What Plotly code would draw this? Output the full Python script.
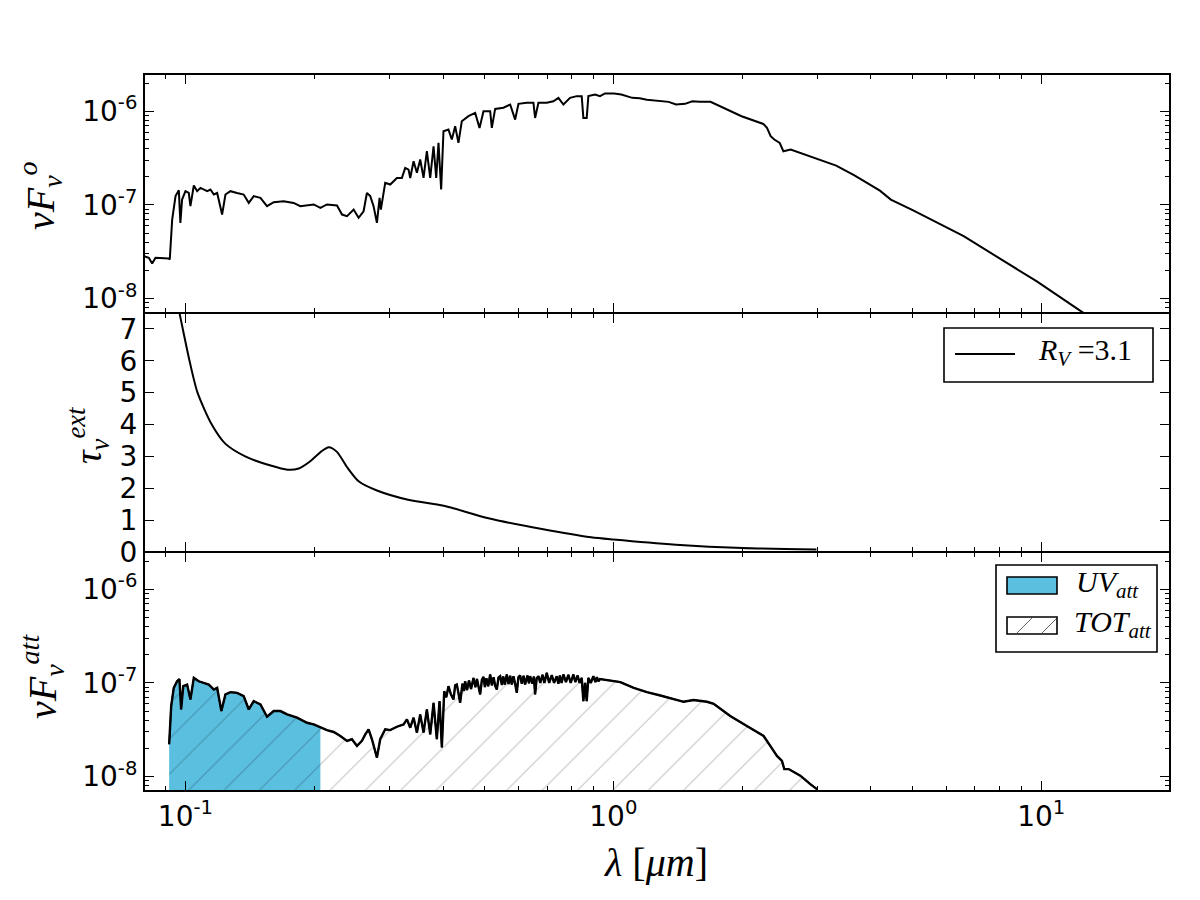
import math
import plotly.graph_objects as go
from plotly.subplots import make_subplots

# ---------------- data ----------------
# intrinsic SED  nuF_nu^o  (top panel)
lam_o = [0.0800, 0.0821, 0.0836, 0.0851, 0.0914, 0.0919, 0.0931, 0.0948, 0.0965, 0.0973,
         0.0982, 0.1000, 0.1018, 0.1027, 0.1046, 0.1065, 0.1084, 0.1124, 0.1144, 0.1165,
         0.1186, 0.1218, 0.1240, 0.1274, 0.1320, 0.1368, 0.1406, 0.1444, 0.1497, 0.1551,
         0.1608, 0.1696, 0.1790, 0.1855, 0.1994, 0.2067, 0.2141, 0.2260, 0.2322, 0.2385,
         0.2472, 0.2539, 0.2608, 0.2655, 0.2703, 0.2752, 0.2802, 0.2842, 0.2862, 0.2930,
         0.3010, 0.3120, 0.3205, 0.3263, 0.3322, 0.3352, 0.3413, 0.3475, 0.3537, 0.3601,
         0.3666, 0.3733, 0.3800, 0.3855, 0.3903, 0.3959, 0.4009, 0.4118, 0.4193, 0.4269,
         0.4345, 0.4424, 0.4585, 0.4754, 0.4867, 0.4972, 0.5154, 0.5200, 0.5294, 0.5537,
         0.5740, 0.5895, 0.6002, 0.6276, 0.6505, 0.6564, 0.6682, 0.6988, 0.7243, 0.7441,
         0.7644, 0.7922, 0.8211, 0.8435, 0.8511, 0.8665, 0.8743, 0.9063, 0.9308, 0.9561,
         1.004, 1.044, 1.107, 1.152, 1.198, 1.347, 1.401, 1.471, 1.530, 1.591,
         1.687, 1.807, 1.994, 2.242, 2.286, 2.332, 2.378, 2.448, 2.497, 2.597,
         3.008, 3.318, 3.660, 4.198, 4.452, 5.007, 6.589, 8.013, 9.748, 12.45, 14.4]
f_o = [2.83e-8, 2.72e-8, 2.36e-8, 2.72e-8, 2.67e-8, 2.61e-8, 6.97e-8, 1.24e-7, 1.43e-7, 6.43e-8,
       1.14e-7, 1.40e-7, 1.34e-7, 9.68e-8, 1.61e-7, 1.40e-7, 1.52e-7, 1.40e-7, 1.46e-7, 1.29e-7,
       1.34e-7, 7.88e-8, 1.29e-7, 1.40e-7, 1.34e-7, 1.29e-7, 1.05e-7, 1.24e-7, 1.19e-7, 9.68e-8,
       1.07e-7, 1.09e-7, 1.05e-7, 9.68e-8, 1.01e-7, 9.29e-8, 1.01e-7, 9.84e-8, 7.88e-8, 7.57e-8,
       8.91e-8, 7.27e-8, 8.55e-8, 1.34e-7, 1.24e-7, 9.68e-8, 6.43e-8, 1.19e-7, 8.91e-8, 1.72e-7,
       1.65e-7, 1.94e-7, 1.94e-7, 2.48e-7, 2.38e-7, 1.94e-7, 2.92e-7, 2.20e-7, 3.05e-7, 1.94e-7,
       3.74e-7, 1.94e-7, 4.23e-7, 1.94e-7, 4.59e-7, 1.46e-7, 6.11e-7, 6.37e-7, 4.99e-7, 6.92e-7,
       4.59e-7, 7.82e-7, 8.85e-7, 9.60e-7, 6.64e-7, 1.00e-6, 1.00e-6, 6.64e-7, 1.06e-6, 1.09e-6,
       1.18e-6, 8.15e-7, 1.20e-6, 1.23e-6, 1.23e-6, 8.49e-7, 1.23e-6, 1.23e-6, 1.28e-6, 1.39e-6,
       1.18e-6, 1.39e-6, 1.45e-6, 1.45e-6, 8.49e-7, 8.49e-7, 1.45e-6, 1.51e-6, 1.45e-6, 1.55e-6,
       1.55e-6, 1.51e-6, 1.39e-6, 1.38e-6, 1.33e-6, 1.26e-6, 1.18e-6, 1.20e-6, 1.28e-6, 1.26e-6,
       1.26e-6, 1.09e-6, 8.85e-7, 7.32e-7, 6.64e-7, 5.41e-7, 4.99e-7, 4.59e-7, 3.74e-7, 3.90e-7,
       3.10e-7, 2.63e-7, 2.07e-7, 1.42e-7, 1.14e-7, 8.77e-8, 4.63e-8, 2.65e-8, 1.53e-8, 7.21e-9, 4.59e-9]

# extinction optical depth tau_nu^ext (middle panel)
lam_tau = [0.0955, 0.0969, 0.1022, 0.1067, 0.1152, 0.1239, 0.1379, 0.1574, 0.1733, 0.1840,
           0.1954, 0.2075, 0.2162, 0.2257, 0.2396, 0.2544, 0.2802, 0.3313, 0.4015, 0.5106,
           0.6809, 0.8869, 1.000, 1.400, 2.007, 2.983]
tau = [7.87, 7.48, 6.00, 5.00, 4.00, 3.40, 3.00, 2.72, 2.58, 2.62,
       2.84, 3.15, 3.29, 3.15, 2.63, 2.21, 1.93, 1.64, 1.45, 1.06,
       0.72, 0.46, 0.39, 0.23, 0.125, 0.08]

# attenuated SED nuF_nu^att (bottom panel)
lam_att = [0.0916, 0.0926, 0.0939, 0.0956, 0.0968, 0.0977, 0.0988, 0.1009, 0.1027, 0.1046,
           0.1074, 0.1104, 0.1134, 0.1165, 0.1186, 0.1213, 0.1240, 0.1274, 0.1320, 0.1368,
           0.1406, 0.1444, 0.1497, 0.1551, 0.1608, 0.1667, 0.1728, 0.1823, 0.1923, 0.1994,
           0.2067, 0.2141, 0.2220, 0.2301, 0.2385, 0.2449, 0.2517, 0.2585, 0.2632, 0.2679,
           0.2728, 0.2802, 0.2852, 0.2930, 0.3010, 0.3120, 0.3234, 0.3293, 0.3352, 0.3413,
           0.3475, 0.3537, 0.3601, 0.3666, 0.3733, 0.3800, 0.3868, 0.3925, 0.3974,
           0.4025, 0.4070, 0.4118, 0.4170, 0.4231, 0.4270, 0.4307, 0.4345, 0.4385, 0.4440,
           0.4475, 0.4504, 0.4550, 0.4600, 0.4650, 0.4711, 0.4760, 0.4800, 0.4840, 0.4884,
           0.4930, 0.4972, 0.5010, 0.5050, 0.5100, 0.5154, 0.5200, 0.5250, 0.5295, 0.5342,
           0.5390, 0.5439, 0.5490, 0.5530, 0.5580, 0.5636, 0.5690, 0.5740, 0.5790, 0.5843,
           0.5895, 0.5948, 0.6000, 0.6056, 0.6110, 0.6170, 0.6220, 0.6300, 0.6350, 0.6390,
           0.6470, 0.6520, 0.6564, 0.6620, 0.6682, 0.6750, 0.6830, 0.6900, 0.6988, 0.7080,
           0.7180, 0.7270, 0.7374, 0.7440, 0.7500, 0.7570, 0.7644, 0.7750, 0.7850, 0.7950,
           0.8066, 0.8150, 0.8250, 0.8340, 0.8435, 0.8511, 0.8590, 0.8665, 0.8743, 0.8860,
           0.8980, 0.9080, 0.9150, 0.9230, 0.9308,
           0.9410, 0.9840, 1.038, 1.116, 1.198, 1.288, 1.409, 1.460, 1.540,
           1.655, 1.716, 1.876, 2.052, 2.245, 2.327, 2.412, 2.478, 2.509, 2.569,
           2.735, 2.886, 2.991]
f_att = [2.21e-8, 5.65e-8, 8.85e-8, 1.04e-7, 1.10e-7, 5.20e-8, 9.22e-8, 9.60e-8, 6.65e-8, 1.13e-7,
         1.04e-7, 1.00e-7, 9.60e-8, 8.49e-8, 8.85e-8, 5.00e-8, 7.52e-8, 7.96e-8, 7.83e-8, 7.22e-8,
         5.20e-8, 6.38e-8, 5.88e-8, 4.35e-8, 5.00e-8, 5.00e-8, 4.61e-8, 4.25e-8, 3.75e-8, 3.60e-8,
         3.32e-8, 3.13e-8, 2.99e-8, 2.71e-8, 2.40e-8, 2.50e-8, 2.12e-8, 2.40e-8, 2.82e-8, 3.19e-8,
         2.50e-8, 1.59e-8, 2.50e-8, 3.19e-8, 3.13e-8, 3.40e-8, 3.60e-8, 4.07e-8, 3.32e-8, 4.25e-8,
         2.94e-8, 4.61e-8, 2.94e-8, 5.20e-8, 2.82e-8, 6.12e-8, 2.50e-8, 6.38e-8, 2.04e-8,
         8.15e-8, 7.00e-8, 9.22e-8, 7.60e-8, 6.65e-8, 9.40e-8, 9.60e-8, 7.80e-8, 6.12e-8, 9.80e-8,
         8.20e-8, 1.04e-7, 8.40e-8, 1.06e-7, 8.60e-8, 1.13e-7, 9.00e-8, 1.10e-7, 8.80e-8, 7.52e-8,
         1.08e-7, 1.16e-7, 9.00e-8, 1.12e-7, 9.20e-8, 1.23e-7, 9.40e-8, 1.15e-7, 9.30e-8, 8.49e-8,
         1.14e-7, 1.18e-7, 9.50e-8, 1.17e-7, 9.60e-8, 1.23e-7, 9.70e-8, 1.19e-7, 9.60e-8, 1.18e-7,
         9.80e-8, 7.83e-8, 1.15e-7, 1.20e-7, 9.80e-8, 1.19e-7, 9.60e-8, 1.20e-7, 9.90e-8, 1.18e-7,
         9.80e-8, 1.17e-7, 7.52e-8, 1.12e-7, 1.18e-7, 1.00e-7, 1.22e-7, 1.00e-7, 1.28e-7, 1.00e-7,
         1.21e-7, 1.00e-7, 1.18e-7, 9.80e-8, 1.20e-7, 1.00e-7, 1.23e-7, 1.02e-7, 1.22e-7, 1.00e-7,
         1.23e-7, 1.02e-7, 1.20e-7, 1.00e-7, 1.13e-7, 6.38e-8, 1.00e-7, 6.38e-8, 1.13e-7, 1.00e-7,
         1.18e-7, 1.02e-7, 1.15e-7, 1.04e-7, 1.10e-7,
         1.09e-7, 1.07e-7, 1.02e-7, 8.85e-8, 7.96e-8, 7.33e-8, 6.49e-8, 6.28e-8, 6.55e-8,
         6.28e-8, 5.98e-8, 4.42e-8, 3.46e-8, 2.71e-8, 2.12e-8, 1.66e-8, 1.47e-8, 1.20e-8, 1.20e-8,
         1.02e-8, 8.28e-9, 7.33e-9]

UV_MAX = 0.207          # upper wavelength of the UV band (micron)
FLOOR = 1e-10           # below the axis range, used to close fills

x_ticks = [0.1, 1, 10]
x_ticktext = ["10<sup>-1</sup>", "10<sup>0</sup>", "10<sup>1</sup>"]
f_ticks = [1e-8, 1e-7, 1e-6]
f_ticktext = ["10<sup>-8</sup>", "10<sup>-7</sup>", "10<sup>-6</sup>"]
tau_ticks = [0, 1, 2, 3, 4, 5, 6, 7]

legend_tau = "<i>R</i><sub><i>V</i></sub> =3.1"
legend_uv = "<i>UV</i><sub><i>att</i></sub>"
legend_tot = "<i>TOT</i><sub><i>att</i></sub>"

UV_COLOR = "#5bbfe0"
X_RANGE = [math.log10(0.08), math.log10(20)]
F_RANGE = [math.log10(7e-9), math.log10(2.5e-6)]

# ---------------- figure ----------------
fig = make_subplots(rows=3, cols=1, shared_xaxes=True, vertical_spacing=0)

fig.add_trace(go.Scatter(x=lam_o, y=f_o, mode="lines", line=dict(color="black", width=2),
                         name="intrinsic", showlegend=False), row=1, col=1)
fig.add_trace(go.Scatter(x=lam_tau, y=tau, mode="lines",
                         line=dict(color="black", width=2, shape="spline", smoothing=0.7),
                         name=legend_tau, showlegend=False), row=2, col=1)
uv_l = [l for l in lam_att if l <= UV_MAX]
uv_f = [f for l, f in zip(lam_att, f_att) if l <= UV_MAX]
fig.add_trace(go.Scatter(x=uv_l + [uv_l[-1], uv_l[0]], y=uv_f + [FLOOR, FLOOR],
                         mode="lines", fill="toself", fillcolor=UV_COLOR,
                         line=dict(width=0, color="rgba(0,0,0,0)"),
                         name=legend_uv, showlegend=False), row=3, col=1)
fig.add_trace(go.Scatter(x=lam_att + [lam_att[-1], lam_att[0]], y=f_att + [FLOOR, FLOOR],
                         mode="lines", fill="toself", fillcolor="rgba(0,0,0,0)",
                         fillpattern=dict(shape="/", fgcolor="rgba(0,0,0,0.45)",
                                          bgcolor="rgba(0,0,0,0)", size=25, solidity=0.045),
                         line=dict(width=1.5, color="black"),
                         name=legend_tot, showlegend=False), row=3, col=1)
fig.add_trace(go.Scatter(x=lam_att, y=f_att, mode="lines", line=dict(color="black", width=2.4),
                         name="attenuated", showlegend=False), row=3, col=1)

# ---------------- axes ----------------
tickfont = dict(family="DejaVu Sans", size=28, color="black")
common = dict(showline=True, linecolor="black", linewidth=1, mirror="ticks",
              ticks="inside", ticklen=10, tickwidth=1.4, tickcolor="black",
              showgrid=False, zeroline=False, tickfont=tickfont)

for r in (1, 2, 3):
    fig.update_xaxes(type="log", range=X_RANGE,
                     tickmode="array", tickvals=x_ticks, ticktext=x_ticktext,
                     showticklabels=(r == 3), row=r, col=1, **common)
for r in (1, 3):
    fig.update_yaxes(type="log", range=F_RANGE,
                     tickmode="array", tickvals=f_ticks, ticktext=f_ticktext,
                     row=r, col=1, **common)
fig.update_yaxes(range=[0, 7.5], tickmode="array", tickvals=tau_ticks, row=2, col=1, **common)

# minor ticks drawn by overlaying tick-only log axes
minor_x = [m * 10.0 ** e for e in range(-2, 2) for m in range(2, 10)]
minor_f = [m * 10.0 ** e for e in range(-9, -5) for m in range(2, 10)]
minor_axis = dict(type="log", tickmode="array", ticks="inside", ticklen=5, tickwidth=1.2,
                  tickcolor="black", showticklabels=False, showgrid=False, zeroline=False,
                  showline=False, mirror="ticks", fixedrange=True)
fig.update_layout(
    xaxis4=dict(overlaying="x", anchor="y", range=X_RANGE, tickvals=minor_x, **minor_axis),
    xaxis5=dict(overlaying="x2", anchor="y2", range=X_RANGE, tickvals=minor_x, **minor_axis),
    xaxis6=dict(overlaying="x3", anchor="y3", range=X_RANGE, tickvals=minor_x, **minor_axis),
    yaxis4=dict(overlaying="y", anchor="x", range=F_RANGE, tickvals=minor_f, **minor_axis),
    yaxis5=dict(overlaying="y3", anchor="x3", range=F_RANGE, tickvals=minor_f, **minor_axis),
)
for xa, ya in [("x4", "y"), ("x5", "y2"), ("x6", "y3"), ("x", "y4"), ("x3", "y5")]:
    fig.add_trace(go.Scatter(x=[], y=[], xaxis=xa, yaxis=ya, mode="lines",
                             showlegend=False, hoverinfo="skip"))

# ---------------- layout helpers ----------------
W, H, L, R, T, B = 1200, 900, 144, 30, 74, 109
pw, ph = W - L - R, H - T - B

def px(x):
    return (x - L) / pw

def py(y):
    return (H - B - y) / ph

shapes = []
shapes.append(dict(type="rect", xref="paper", yref="paper", x0=0, x1=1, y0=0, y1=1,
                   line=dict(color="black", width=2), layer="above"))
for yb in (1 / 3, 2 / 3):
    shapes.append(dict(type="line", xref="paper", yref="paper", x0=0, x1=1, y0=yb, y1=yb,
                       line=dict(color="black", width=2), layer="above"))

# legend 1 (middle panel)
shapes.append(dict(type="rect", xref="paper", yref="paper", x0=px(944), x1=px(1153),
                   y0=py(382), y1=py(328), fillcolor="white",
                   line=dict(color="black", width=1.6), layer="above"))
shapes.append(dict(type="line", xref="paper", yref="paper", x0=px(955), x1=px(1015),
                   y0=py(354), y1=py(354), line=dict(color="black", width=2), layer="above"))
# legend 2 (bottom panel)
shapes.append(dict(type="rect", xref="paper", yref="paper", x0=px(996), x1=px(1157),
                   y0=py(652), y1=py(565), fillcolor="white",
                   line=dict(color="black", width=1.6), layer="above"))
shapes.append(dict(type="rect", xref="paper", yref="paper", x0=px(1007), x1=px(1057),
                   y0=py(594), y1=py(577), fillcolor=UV_COLOR,
                   line=dict(color="black", width=1.6), layer="above"))
shapes.append(dict(type="rect", xref="paper", yref="paper", x0=px(1007), x1=px(1057),
                   y0=py(634), y1=py(617), fillcolor="white",
                   line=dict(color="black", width=1.6), layer="above"))
for (xa, ya, xb, yb_) in [(1017, 633, 1032, 618), (1042, 633, 1056, 619)]:
    shapes.append(dict(type="line", xref="paper", yref="paper", x0=px(xa), x1=px(xb),
                       y0=py(ya), y1=py(yb_), line=dict(color="rgba(0,0,0,0.6)", width=1),
                       layer="above"))

annots = [
    ("<i>νF</i><sub><i>ν</i></sub><sup><i>o</i></sup>", 40, 196, -90, 40),
    ("<i>τ</i><sub><i>ν</i></sub><sup><i>ext</i></sup>", 88, 436, -90, 38),
    ("<i>νF</i><sub><i>ν</i></sub><sup><i>att</i></sup>", 42, 677, -90, 40),
    ("<i>λ</i> [<i>μm</i>]", 656, 862, 0, 40),
]
for txt, ax_, ay_, ang, sz in annots:
    fig.add_annotation(text=txt, x=px(ax_), y=py(ay_), xref="paper", yref="paper",
                       xanchor="center", yanchor="middle", showarrow=False,
                       textangle=ang, font=dict(family="Liberation Serif", size=sz, color="black"))

legend_font = dict(family="Liberation Serif", size=30, color="black")
for txt, lx, ly in [(legend_tau, 1036, 352), (legend_uv, 1074, 584), (legend_tot, 1072, 624)]:
    fig.add_annotation(text=txt, x=px(lx), y=py(ly), xref="paper", yref="paper",
                       xanchor="left", yanchor="middle", showarrow=False, font=legend_font)

fig.update_layout(
    width=W, height=H,
    margin=dict(l=L, r=R, t=T, b=B),
    paper_bgcolor="white", plot_bgcolor="white",
    showlegend=False,
    shapes=shapes,
)

fig.write_html("out.html")
